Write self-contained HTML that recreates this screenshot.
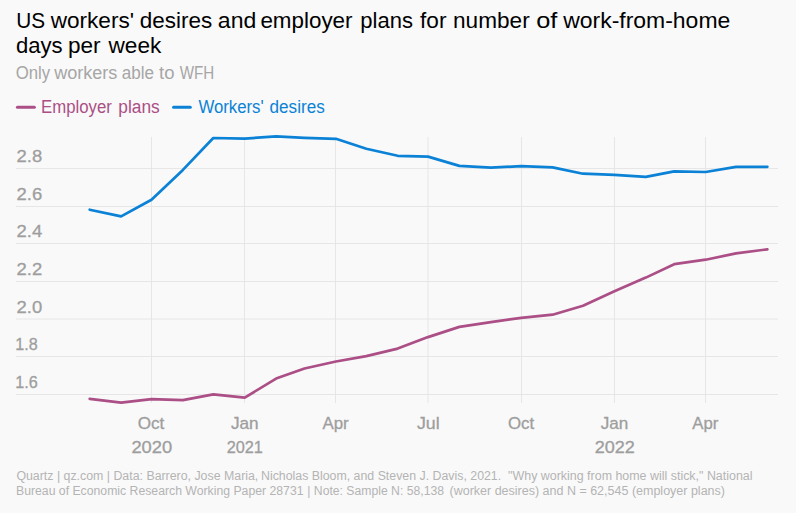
<!DOCTYPE html>
<html><head><meta charset="utf-8"><style>
html,body{margin:0;padding:0;background:#f9f9f9;width:796px;height:513px;overflow:hidden}
svg{display:block}
text{font-family:"Liberation Sans",sans-serif;white-space:pre}
.t{font-size:22.5px;fill:#000}
.st{font-size:17.5px;fill:#a6a6a6}
.lgp{font-size:18px;fill:#ab4f86}
.lgb{font-size:18px;fill:#0b82d6}
.yl{font-size:17.3px;fill:#9e9e9e;stroke:#9e9e9e;stroke-width:0.3px}
.xl{font-size:16.3px;fill:#9e9e9e;stroke:#9e9e9e;stroke-width:0.3px}
.ft{font-size:12px;fill:#b4b4b4}
</style></head><body>
<svg width="796" height="513" viewBox="0 0 796 513">
<text x="16.18" y="27.60" class="t" textLength="28.87" lengthAdjust="spacingAndGlyphs">US</text>
<text x="50.70" y="27.60" class="t" textLength="83.37" lengthAdjust="spacingAndGlyphs">workers'</text>
<text x="139.80" y="27.60" class="t" textLength="72.44" lengthAdjust="spacingAndGlyphs">desires</text>
<text x="217.88" y="27.60" class="t" textLength="38.41" lengthAdjust="spacingAndGlyphs">and</text>
<text x="260.40" y="27.60" class="t" textLength="92.14" lengthAdjust="spacingAndGlyphs">employer</text>
<text x="360.32" y="27.60" class="t" textLength="52.66" lengthAdjust="spacingAndGlyphs">plans</text>
<text x="420.10" y="27.60" class="t" textLength="26.37" lengthAdjust="spacingAndGlyphs">for</text>
<text x="452.99" y="27.60" class="t" textLength="76.70" lengthAdjust="spacingAndGlyphs">number</text>
<text x="536.17" y="27.60" class="t" textLength="21.16" lengthAdjust="spacingAndGlyphs">of</text>
<text x="563.20" y="27.60" class="t" textLength="167.10" lengthAdjust="spacingAndGlyphs">work-from-home</text>
<text x="15.92" y="52.60" class="t" textLength="46.70" lengthAdjust="spacingAndGlyphs">days</text>
<text x="68.00" y="52.60" class="t" textLength="32.63" lengthAdjust="spacingAndGlyphs">per</text>
<text x="108.50" y="52.60" class="t" textLength="52.83" lengthAdjust="spacingAndGlyphs">week</text>
<text x="15.64" y="79.00" class="st" textLength="34.44" lengthAdjust="spacingAndGlyphs">Only</text>
<text x="54.20" y="79.00" class="st" textLength="63.17" lengthAdjust="spacingAndGlyphs">workers</text>
<text x="121.70" y="79.00" class="st" textLength="32.29" lengthAdjust="spacingAndGlyphs">able</text>
<text x="159.00" y="79.00" class="st" textLength="15.44" lengthAdjust="spacingAndGlyphs">to</text>
<text x="179.80" y="79.00" class="st" textLength="34.54" lengthAdjust="spacingAndGlyphs">WFH</text>
<text x="40.97" y="112.60" class="lgp" textLength="70.86" lengthAdjust="spacingAndGlyphs">Employer</text>
<text x="118.34" y="112.60" class="lgp" textLength="41.39" lengthAdjust="spacingAndGlyphs">plans</text>
<text x="198.40" y="112.60" class="lgb" textLength="65.32" lengthAdjust="spacingAndGlyphs">Workers'</text>
<text x="269.60" y="112.60" class="lgb" textLength="55.13" lengthAdjust="spacingAndGlyphs">desires</text>
<line x1="17.4" y1="107.3" x2="34.4" y2="107.3" stroke="#ab4f86" stroke-width="3" stroke-linecap="round"/>
<line x1="173.5" y1="107.3" x2="190.3" y2="107.3" stroke="#0b82d6" stroke-width="3" stroke-linecap="round"/>
<line x1="16" y1="168.5" x2="778" y2="168.5" stroke="#e6e6e6" stroke-width="1"/>
<line x1="16" y1="206.5" x2="778" y2="206.5" stroke="#e6e6e6" stroke-width="1"/>
<line x1="16" y1="243.5" x2="778" y2="243.5" stroke="#e6e6e6" stroke-width="1"/>
<line x1="16" y1="281.5" x2="778" y2="281.5" stroke="#e6e6e6" stroke-width="1"/>
<line x1="16" y1="319.0" x2="778" y2="319.0" stroke="#e6e6e6" stroke-width="1"/>
<line x1="16" y1="356.5" x2="778" y2="356.5" stroke="#e6e6e6" stroke-width="1"/>
<line x1="16" y1="394.5" x2="778" y2="394.5" stroke="#e6e6e6" stroke-width="1"/>
<line x1="151.5" y1="137" x2="151.5" y2="403" stroke="#e6e6e6" stroke-width="1"/>
<line x1="244.5" y1="137" x2="244.5" y2="403" stroke="#e6e6e6" stroke-width="1"/>
<line x1="335.5" y1="137" x2="335.5" y2="403" stroke="#e6e6e6" stroke-width="1"/>
<line x1="428.0" y1="137" x2="428.0" y2="403" stroke="#e6e6e6" stroke-width="1"/>
<line x1="521.5" y1="137" x2="521.5" y2="403" stroke="#e6e6e6" stroke-width="1"/>
<line x1="614.5" y1="137" x2="614.5" y2="403" stroke="#e6e6e6" stroke-width="1"/>
<line x1="705.5" y1="137" x2="705.5" y2="403" stroke="#e6e6e6" stroke-width="1"/>
<polyline points="89.7,398.9 121.1,402.7 151.5,399.1 182.9,400.1 213.3,394.3 244.7,397.7 276.1,378.6 304.5,368.5 335.9,361.5 366.3,356.1 397.7,348.6 428.0,337.1 459.4,326.9 490.9,322.1 521.2,317.9 552.6,314.7 583.0,305.7 614.4,291.3 645.8,277.6 674.2,264.2 705.6,259.7 736.0,253.4 767.4,249.3" fill="none" stroke="#ab4f86" stroke-width="2.7" stroke-linejoin="round" stroke-linecap="round"/>
<polyline points="89.7,209.7 121.1,216.4 151.5,199.7 182.9,169.9 213.3,138.0 244.7,138.6 276.1,136.4 304.5,137.8 335.9,138.8 366.3,148.8 397.7,155.8 428.0,156.6 459.4,165.9 490.9,167.7 521.2,166.1 552.6,167.4 583.0,173.7 614.4,174.9 645.8,176.8 674.2,171.4 705.6,172.0 736.0,166.8 767.4,166.8" fill="none" stroke="#0b82d6" stroke-width="2.7" stroke-linejoin="round" stroke-linecap="round"/>
<text x="16.60" y="162.00" class="yl" textLength="25.63" lengthAdjust="spacingAndGlyphs">2.8</text>
<text x="16.60" y="200.00" class="yl" textLength="25.63" lengthAdjust="spacingAndGlyphs">2.6</text>
<text x="16.60" y="237.00" class="yl" textLength="25.63" lengthAdjust="spacingAndGlyphs">2.4</text>
<text x="16.60" y="275.00" class="yl" textLength="25.63" lengthAdjust="spacingAndGlyphs">2.2</text>
<text x="16.60" y="312.50" class="yl" textLength="25.63" lengthAdjust="spacingAndGlyphs">2.0</text>
<text x="15.17" y="350.00" class="yl" textLength="22.46" lengthAdjust="spacingAndGlyphs">1.8</text>
<text x="15.17" y="388.00" class="yl" textLength="22.46" lengthAdjust="spacingAndGlyphs">1.6</text>
<text x="137.70" y="428.60" class="xl" textLength="26.61" lengthAdjust="spacingAndGlyphs">Oct</text>
<text x="230.90" y="428.60" class="xl" textLength="27.68" lengthAdjust="spacingAndGlyphs">Jan</text>
<text x="322.40" y="428.60" class="xl" textLength="26.22" lengthAdjust="spacingAndGlyphs">Apr</text>
<text x="417.00" y="428.60" class="xl" textLength="22.70" lengthAdjust="spacingAndGlyphs">Jul</text>
<text x="507.90" y="428.60" class="xl" textLength="26.22" lengthAdjust="spacingAndGlyphs">Oct</text>
<text x="600.80" y="428.60" class="xl" textLength="27.58" lengthAdjust="spacingAndGlyphs">Jan</text>
<text x="692.30" y="428.60" class="xl" textLength="26.03" lengthAdjust="spacingAndGlyphs">Apr</text>
<text x="131.40" y="452.80" class="xl" textLength="40.76" lengthAdjust="spacingAndGlyphs">2020</text>
<text x="226.70" y="452.80" class="xl" textLength="36.23" lengthAdjust="spacingAndGlyphs">2021</text>
<text x="594.70" y="452.80" class="xl" textLength="40.16" lengthAdjust="spacingAndGlyphs">2022</text>
<text x="16.40" y="479.60" class="ft" textLength="241.91" lengthAdjust="spacingAndGlyphs">Quartz | qz.com | Data: Barrero, Jose Maria,</text>
<text x="260.97" y="479.60" class="ft" textLength="240.21" lengthAdjust="spacingAndGlyphs">Nicholas Bloom, and Steven J. Davis, 2021.</text>
<text x="508.10" y="479.60" class="ft" textLength="244.42" lengthAdjust="spacingAndGlyphs">&quot;Why working from home will stick,&quot; National</text>
<text x="15.98" y="495.00" class="ft" textLength="287.56" lengthAdjust="spacingAndGlyphs">Bureau of Economic Research Working Paper 28731</text>
<text x="307.28" y="495.00" class="ft" textLength="136.76" lengthAdjust="spacingAndGlyphs">| Note: Sample N: 58,138</text>
<text x="449.50" y="495.00" class="ft" textLength="275.47" lengthAdjust="spacingAndGlyphs">(worker desires) and N = 62,545 (employer plans)</text>
</svg>
</body></html>
